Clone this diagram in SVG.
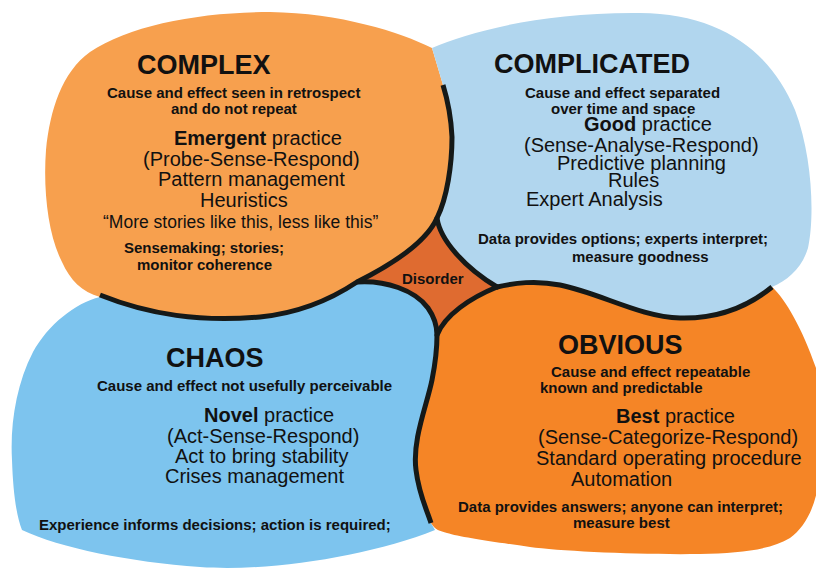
<svg xmlns="http://www.w3.org/2000/svg" width="816" height="570" viewBox="0 0 816 570">
<style>
text{font-family:"Liberation Sans",Arial,sans-serif;fill:#111;}
.t{font-size:27px;font-weight:bold;}
.s{font-size:15px;font-weight:bold;}
.r{font-size:20px;}
.q{font-size:17.5px;}
.b{font-weight:bold;}
.ln{fill:none;stroke:#151918;stroke-width:5;stroke-linecap:butt;stroke-linejoin:round;}
.lr{fill:none;stroke:#151918;stroke-width:5;stroke-linecap:round;stroke-linejoin:round;}
</style>
<rect width="816" height="570" fill="#ffffff"/>
<g id="complex">
<path fill="#F7A04E" d="M432,48 C400,32 340,13 270,12 C200,12 130,25 90,52 C62,72 50,110 46,150 C43,190 48,235 62,262 C70,280 82,292 100,297 C150,315 200,322 260,317 C300,313 330,300 357,282 C385,268 425,245 437,218 C447,198 452,165 452,137 C451,115 447,98 443,85 Z"/>
<text class="t" x="137" y="74">COMPLEX</text>
<text class="s" x="107" y="98">Cause and effect seen in retrospect</text>
<text class="s" x="171" y="114">and do not repeat</text>
<text class="r" x="174" y="145"><tspan class="b">Emergent</tspan> practice</text>
<text class="r" x="143" y="166">(Probe-Sense-Respond)</text>
<text class="r" x="158" y="186">Pattern management</text>
<text class="r" x="200" y="207">Heuristics</text>
<text class="q" x="103" y="228">“More stories like this, less like this”</text>
<text class="s" x="124" y="253">Sensemaking; stories;</text>
<text class="s" x="137" y="270">monitor coherence</text>
</g>
<g id="complicated">
<path fill="#B1D6EE" d="M432,48 C470,32 540,12 640,13 C720,14 770,50 795,110 C812,155 815,215 808,248 C802,268 788,280 772,287 C750,305 720,319 680,318 C640,317 600,293 560,285 C535,280 515,283 497,287 C465,268 440,240 437,218 C447,198 452,165 452,137 C451,115 447,98 443,85 Z"/>
<text class="t" x="494" y="73">COMPLICATED</text>
<text class="s" x="525" y="98">Cause and effect separated</text>
<text class="s" x="551" y="114">over time and space</text>
<text class="r" x="584" y="131"><tspan class="b">Good</tspan> practice</text>
<text class="r" x="524" y="152">(Sense-Analyse-Respond)</text>
<text class="r" x="557" y="170">Predictive planning</text>
<text class="r" x="608" y="187">Rules</text>
<text class="r" x="526" y="206">Expert Analysis</text>
<text class="s" x="478" y="244">Data provides options; experts interpret;</text>
<text class="s" x="572" y="262">measure goodness</text>
</g>
<g id="chaos">
<path fill="#7DC4EE" d="M100,297 C75,303 48,325 33,352 C16,385 10,425 12,460 C13,490 16,515 22,530 C60,548 130,562 200,567 C270,572 370,556 435,530 L431,523 C427,510 419,495 416,470 C412,440 427,405 432,380 C436,360 437,350 437,335 C437,328 435,318 428,308 C415,290 385,280 357,282 C330,300 300,313 260,317 C200,322 150,315 100,297 Z"/>
<text class="t" x="166" y="367">CHAOS</text>
<text class="s" x="97" y="391">Cause and effect not usefully perceivable</text>
<text class="r" x="204" y="422"><tspan class="b">Novel</tspan> practice</text>
<text class="r" x="167" y="443">(Act-Sense-Respond)</text>
<text class="r" x="175" y="463">Act to bring stability</text>
<text class="r" x="165" y="483">Crises management</text>
<text class="s" x="39" y="530">Experience informs decisions; action is required;</text>
</g>
<g id="obvious">
<path fill="#F58526" d="M437,335 C445,315 470,298 497,287 C515,283 535,280 560,285 C600,293 640,317 680,318 C720,319 750,305 772,287 C786,300 802,328 816,368 L820,368 L820,470 C818,500 808,525 790,538 C770,550 740,553 700,554 C640,555 560,551 530,547 C495,542 460,537 447,533 C440,531 435,530 431,523 C427,510 419,495 416,470 C412,440 427,405 432,380 C436,360 437,350 437,335 Z"/>
<text class="t" x="558" y="354">OBVIOUS</text>
<text class="s" x="551" y="377">Cause and effect repeatable</text>
<text class="s" x="540" y="393">known and predictable</text>
<text class="r" x="616" y="423"><tspan class="b">Best</tspan> practice</text>
<text class="r" x="538" y="444">(Sense-Categorize-Respond)</text>
<text class="r" x="536" y="465">Standard operating procedure</text>
<text class="r" x="571" y="486">Automation</text>
<text class="s" x="458" y="512">Data provides answers; anyone can interpret;</text>
<text class="s" x="573" y="528">measure best</text>
</g>
<g id="disorder">
<path fill="#DF6B30" d="M357,282 C385,268 425,245 437,218 C440,240 465,268 497,287 C470,298 445,315 437,335 C437,328 435,318 428,308 C415,290 385,280 357,282 Z"/>
<text class="s" x="402" y="284">Disorder</text>
</g>
<g id="connectors">
<path class="ln" d="M100,295 C150,315 200,322 260,317 C300,313 330,300 357,282 C385,268 425,245 437,218 C447,198 452,165 452,137 C451,115 447,98 443,85"/>
<path class="ln" d="M357,282 C385,280 415,290 428,308 C435,318 437,328 437,335 C437,350 436,360 432,380 C427,405 412,440 416,470 C419,495 427,510 431,523"/>
<path class="ln" d="M497,287 C515,283 535,280 560,285 C600,293 640,317 680,318 C720,319 750,305 772,287"/>
<path class="lr" d="M437,218 C440,240 465,268 497,287"/>
<path class="lr" d="M497,287 C470,298 445,315 437,335"/>
</g>
</svg>
